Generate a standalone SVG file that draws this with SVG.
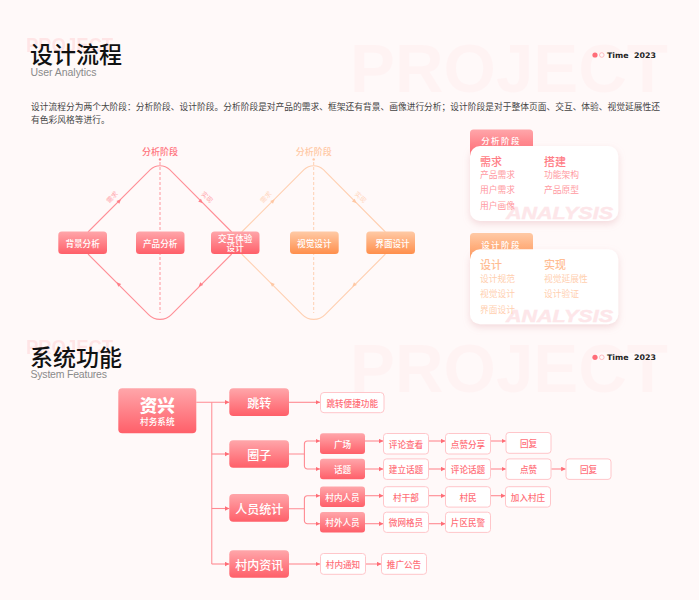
<svg xmlns="http://www.w3.org/2000/svg" width="699" height="600" viewBox="0 0 699 600">
<style>
text{font-family:"Noto Sans CJK SC","Liberation Sans",sans-serif}
.en{font-family:"Liberation Sans","Noto Sans CJK SC",sans-serif}
.ghost{font-family:"Liberation Sans",sans-serif;font-weight:700;fill:#ff6d78;opacity:.035;font-size:69px}
.ghosts{font-family:"Liberation Sans",sans-serif;font-weight:700;fill:#ffb8bd;opacity:.3;font-size:20px}
.h1{font-size:23px;font-weight:500;fill:#111}
.sub{font-size:10.5px;fill:#8a8a8a}
.p{font-size:8.74px;fill:#444}
.time{font-family:"DejaVu Sans",sans-serif;font-size:7.6px;font-weight:700;fill:#222}
.w{fill:#fff;text-anchor:middle;dominant-baseline:central;font-weight:500}
.w12{font-size:12px}.w9{font-size:8.6px}
.rb{fill:url(#red)}.ob{fill:url(#org)}
.lr{fill:none;stroke:#ff8f97;stroke-width:1.1}
.lo{fill:none;stroke:#ffd0b2;stroke-width:1.1}
.dr{stroke:#ff969d;stroke-width:1;stroke-dasharray:3 2;fill:none}
.do{stroke:#ffd0b2;stroke-width:1;stroke-dasharray:3 2;fill:none}
.stage{font-size:9px;text-anchor:middle;dominant-baseline:central;font-weight:500}
.tiny{font-size:6.5px;text-anchor:middle;dominant-baseline:central}
.card{fill:#fff;filter:url(#sh)}
.ct{font-size:11px;dominant-baseline:central;font-weight:500}
.ci{font-size:8.75px;dominant-baseline:central}
.ana{font-family:"Liberation Sans",sans-serif;font-weight:700;font-style:italic;font-size:17px;fill:#fde6e9;stroke:#fde6e9;stroke-width:.4}
.ol{fill:#fff;stroke:#ffc6ca;stroke-width:1}
.ot{fill:#ff6f79;font-size:8.6px;text-anchor:middle;dominant-baseline:central;font-weight:500}
.c{fill:none;stroke:#ff8a92;stroke-width:1.1;marker-end:url(#ar)}
.t{fill:none;stroke:#ffa9ae;stroke-width:1.4}
</style>
<defs>
<linearGradient id="red" x1="0" y1="0" x2="0" y2="1"><stop offset="0" stop-color="#ffa6aa"/><stop offset="1" stop-color="#ff5f69"/></linearGradient>
<linearGradient id="org" x1="0" y1="0" x2="0" y2="1"><stop offset="0" stop-color="#ffcaa6"/><stop offset="1" stop-color="#ff8f4c"/></linearGradient>
<filter id="sh" x="-15%" y="-20%" width="130%" height="145%"><feDropShadow dx="0" dy="3" stdDeviation="3.5" flood-color="#e0a0a6" flood-opacity=".35"/></filter>
<marker id="ar" markerUnits="userSpaceOnUse" markerWidth="5" markerHeight="5" refX="4.5" refY="2.5" orient="auto"><path d="M0,0.2L4.5,2.5L0,4.8Z" fill="#ff6d76"/></marker>
<path id="tr" d="M-2,-2L2.4,0L-2,2Z" fill="#ff7f88"/>
<path id="to" d="M-2,-2L2.4,0L-2,2Z" fill="#ffc8a4"/>
</defs>
<rect width="699" height="600" fill="#fff9f9"/>

<g id="header-1">
<text class="ghost" x="350" y="92" textLength="318" lengthAdjust="spacingAndGlyphs">PROJECT</text>
<text class="ghosts" x="26" y="52" textLength="87" lengthAdjust="spacingAndGlyphs">PROJECT</text>
<text class="h1" x="30" y="63">设计流程</text>
<text class="sub en" x="30.5" y="76" textLength="66">User Analytics</text>
<circle cx="595" cy="55" r="2.6" fill="#ff6d78"/><circle cx="601.8" cy="55" r="2.3" fill="none" stroke="#ffb4ba" stroke-width=".9"/>
<text class="time" x="607" y="58" textLength="49" lengthAdjust="spacingAndGlyphs" xml:space="preserve">Time  2023</text>
<text class="p" x="31" y="110" textLength="629">设计流程分为两个大阶段：分析阶段、设计阶段。分析阶段是对产品的需求、框架还有背景、画像进行分析；设计阶段是对于整体页面、交互、体验、视觉延展性还</text>
<text class="p" x="31" y="123">有色彩风格等进行。</text>
</g>

<g id="connectors-flow">
<path class="lo" d="M241.7,232L304,169.7A13.8,13.8 0 0 1 323.4,169.7L385.4,232M241.7,254L302.3,314.6A16,16 0 0 0 325.1,314.6L385.4,254"/>
<path class="do" d="M313.7,162V313"/><circle cx="313.7" cy="159.4" r="1.2" fill="#ffc8a4"/>
<use href="#to" transform="translate(273,201) rotate(-45)"/><use href="#to" transform="translate(354.7,201.5) rotate(45)"/><use href="#to" transform="translate(272,284) rotate(-135)"/><use href="#to" transform="translate(354,285) rotate(135)"/>
<path class="lr" d="M88,232L150.3,169.7A13.8,13.8 0 0 1 169.7,169.7L231.7,232M88,254L148.6,314.6A16,16 0 0 0 171.4,314.6L231.7,254"/>
<path class="dr" d="M160,162V313"/><circle cx="160" cy="159.4" r="1.2" fill="#ff7f88"/>
<use href="#tr" transform="translate(119.3,201) rotate(-45)"/><use href="#tr" transform="translate(201,201.5) rotate(45)"/><use href="#tr" transform="translate(118.3,284) rotate(-135)"/><use href="#tr" transform="translate(200.3,285) rotate(135)"/>
</g>
<g id="flow-labels">
<text class="stage" x="160" y="151" fill="#ff7580">分析阶段</text>
<text class="stage" x="313.7" y="151" fill="#ffc9a6">分析阶段</text>
<text class="tiny" x="111.7" y="196.7" fill="#ffa5ab" transform="rotate(-45 111.7 196.7)">需求</text>
<text class="tiny" x="207.5" y="196.7" fill="#ffa5ab" transform="rotate(45 207.5 196.7)">实现</text>
<text class="tiny" x="265.5" y="196.7" fill="#ffd6bd" transform="rotate(-45 265.5 196.7)">需求</text>
<text class="tiny" x="361" y="196.7" fill="#ffd6bd" transform="rotate(45 361 196.7)">实现</text>
</g>
<g id="n-beijing"><rect class="rb" x="58.3" y="231.5" width="48.7" height="22.5" rx="3.5"/><text class="w w9" x="82.6" y="242.7">背景分析</text></g>
<g id="n-chanpin"><rect class="rb" x="136" y="231.5" width="48.5" height="22.5" rx="3.5"/><text class="w w9" x="160.2" y="242.7">产品分析</text></g>
<g id="n-jiaohu"><rect class="rb" x="211" y="231.5" width="48.5" height="22.5" rx="3.5"/><text class="w w9" x="235.2" y="238">交互体验</text><text class="w w9" x="235.2" y="247">设计</text></g>
<g id="n-shijue"><rect class="ob" x="290" y="231.5" width="48.7" height="22.5" rx="3.5"/><text class="w w9" x="314.3" y="242.7">视觉设计</text></g>
<g id="n-jiemian"><rect class="ob" x="366.3" y="231.5" width="48.7" height="22.5" rx="3.5"/><text class="w w9" x="392.5" y="242.7">界面设计</text></g>

<g id="panel-analysis">
<rect class="rb" x="470" y="129.5" width="63" height="30" rx="3.5"/>
<text class="w" x="501" y="140" font-size="8.5" letter-spacing="1.4">分析阶段</text>
<rect class="card" x="470" y="146" width="148.3" height="75" rx="10"/>
<text class="ana" x="506" y="219" textLength="107" lengthAdjust="spacingAndGlyphs">ANALYSIS</text>
<g fill="#ff7d86"><text class="ct" x="480" y="161">需求</text><text class="ct" x="544" y="161">搭建</text></g>
<g fill="#ff9aa2"><text class="ci" x="480" y="174">产品需求</text><text class="ci" x="480" y="189.5">用户需求</text><text class="ci" x="480" y="205">用户画像</text><text class="ci" x="544" y="174">功能架构</text><text class="ci" x="544" y="189.5">产品原型</text></g>
</g>
<g id="panel-design">
<rect class="ob" x="470" y="233" width="63" height="30" rx="3.5"/>
<text class="w" x="501" y="243.5" font-size="8.5" letter-spacing="1.4">设计阶段</text>
<rect class="card" x="470" y="249.3" width="148.3" height="75" rx="10"/>
<text class="ana" x="506" y="322" textLength="107" lengthAdjust="spacingAndGlyphs">ANALYSIS</text>
<g fill="#ffbd93"><text class="ct" x="480" y="264">设计</text><text class="ct" x="544" y="264">实现</text></g>
<g fill="#ffcfb0"><text class="ci" x="480" y="278">设计规范</text><text class="ci" x="480" y="293">视觉设计</text><text class="ci" x="480" y="309">界面设计</text><text class="ci" x="544" y="278">视觉延展性</text><text class="ci" x="544" y="293">设计验证</text></g>
</g>

<g id="header-2">
<text class="ghost" x="350" y="392" textLength="318" lengthAdjust="spacingAndGlyphs">PROJECT</text>
<text class="ghosts" x="26" y="354" textLength="87" lengthAdjust="spacingAndGlyphs">PROJECT</text>
<text class="h1" x="30" y="365.7">系统功能</text>
<text class="sub en" x="30.5" y="378" textLength="76.5">System Features</text>
<circle cx="595" cy="357.3" r="2.6" fill="#ff6d78"/><circle cx="601.8" cy="357.3" r="2.3" fill="none" stroke="#ffb4ba" stroke-width=".9"/>
<text class="time" x="607" y="360.3" textLength="49" lengthAdjust="spacingAndGlyphs" xml:space="preserve">Time  2023</text>
</g>

<g id="connectors-tree">
<path class="t" d="M211.7,402.3V564"/>
<path class="c" d="M196.3,402.3H229.3"/><path class="c" d="M211.7,454H229.3"/><path class="c" d="M211.7,508.5H229.3"/><path class="c" d="M211.7,564H229.3"/>
<path class="c" d="M289,402.3H320"/>
<path class="c" d="M289,454H304.4V444a3,3 0 0 1 3,-3H320"/><path class="c" d="M304.4,454V466a3,3 0 0 0 3,3H320"/>
<path class="c" d="M289,508.7H304.4V498.7a3,3 0 0 1 3,-3H320"/><path class="c" d="M304.4,508.7V520.7a3,3 0 0 0 3,3H320"/>
<path class="c" d="M289,564H320"/>
<path class="c" d="M365,441H383.3"/><path class="c" d="M428.7,441H445.3"/><path class="c" d="M490.3,441H506"/>
<path class="c" d="M365,469H383.3"/><path class="c" d="M428.7,469H445.3"/><path class="c" d="M490.3,469H506"/><path class="c" d="M551.3,469H565.7"/>
<path class="c" d="M365,495.7H383.3"/><path class="c" d="M428.7,495.7H445.3"/><path class="c" d="M490.3,495.7H505.3"/>
<path class="c" d="M365,523.7H383.3"/><path class="c" d="M428.7,523.7H445.3"/>
<path class="c" d="M365.3,564H381.3"/>
</g>

<g id="t-root"><rect class="rb" x="118.3" y="388.3" width="78" height="45" rx="4"/><text class="w" x="157.3" y="404" font-size="17.5" font-weight="900" style="font-weight:900">资兴</text><text class="w w9" x="157.3" y="421">村务系统</text></g>
<g id="t-tiaozhuan"><rect class="rb" x="229.3" y="388.3" width="59.7" height="27.7" rx="4"/><text class="w w12" x="259.2" y="402">跳转</text></g>
<g id="t-quanzi"><rect class="rb" x="229.3" y="440.3" width="59.7" height="27.4" rx="4"/><text class="w w12" x="259.2" y="454">圈子</text></g>
<g id="t-renyuan"><rect class="rb" x="229.3" y="494" width="59.7" height="27.7" rx="4"/><text class="w w12" x="259.2" y="508">人员统计</text></g>
<g id="t-zixun"><rect class="rb" x="229.3" y="550.3" width="59.7" height="27.4" rx="4"/><text class="w w12" x="259.2" y="564">村内资讯</text></g>
<g id="t-bianjie"><rect class="ol" x="320.5" y="392.5" width="63.5" height="20.2" rx="3.5"/><text class="ot" x="352.2" y="402.5">跳转便捷功能</text></g>

<g id="t-guangchang"><rect class="rb" x="320" y="433.3" width="45" height="20.7" rx="3"/><text class="w w9" x="342.5" y="443.6">广场</text></g>
<g id="t-huati"><rect class="rb" x="320" y="458.7" width="45" height="20.6" rx="3"/><text class="w w9" x="342.5" y="469">话题</text></g>
<g id="t-cunnei"><rect class="rb" x="320" y="486.5" width="45" height="20.6" rx="3"/><text class="w w9" x="342.5" y="496.7">村内人员</text></g>
<g id="t-cunwai"><rect class="rb" x="320" y="512" width="45" height="20.4" rx="3"/><text class="w w9" x="342.5" y="522.2">村外人员</text></g>

<g id="t-pinglun"><rect class="ol" x="383.5" y="433.5" width="45" height="20.5" rx="3"/><text class="ot" x="406" y="443.8">评论查看</text></g>
<g id="t-dianzan1"><rect class="ol" x="445.5" y="433.5" width="45" height="20.5" rx="3"/><text class="ot" x="468" y="443.8">点赞分享</text></g>
<g id="t-huifu1"><rect class="ol" x="506" y="432.5" width="45" height="20.8" rx="3"/><text class="ot" x="528.5" y="443">回复</text></g>
<g id="t-jianli"><rect class="ol" x="383.5" y="458.9" width="45" height="20.5" rx="3"/><text class="ot" x="406" y="469.2">建立话题</text></g>
<g id="t-pinglun2"><rect class="ol" x="445.5" y="458.9" width="45" height="20.5" rx="3"/><text class="ot" x="468" y="469.2">评论话题</text></g>
<g id="t-dianzan2"><rect class="ol" x="506" y="458.9" width="45" height="20.5" rx="3"/><text class="ot" x="528.5" y="469.2">点赞</text></g>
<g id="t-huifu2"><rect class="ol" x="566" y="458.9" width="45" height="20.5" rx="3"/><text class="ot" x="588.5" y="469.2">回复</text></g>
<g id="t-cunganbu"><rect class="ol" x="383.5" y="486.7" width="45" height="20.4" rx="3"/><text class="ot" x="406" y="496.9">村干部</text></g>
<g id="t-cunmin"><rect class="ol" x="445.5" y="486.7" width="45" height="20.4" rx="3"/><text class="ot" x="468" y="496.9">村民</text></g>
<g id="t-jiaru"><rect class="ol" x="505.5" y="486.7" width="45" height="20.4" rx="3"/><text class="ot" x="528" y="496.9">加入村庄</text></g>
<g id="t-wangge"><rect class="ol" x="383.5" y="512.2" width="45" height="20.2" rx="3"/><text class="ot" x="406" y="522.3">微网格员</text></g>
<g id="t-minjing"><rect class="ol" x="445.5" y="512.2" width="45" height="20.2" rx="3"/><text class="ot" x="468" y="522.3">片区民警</text></g>
<g id="t-tongzhi"><rect class="ol" x="320.5" y="553.5" width="45" height="20.8" rx="3"/><text class="ot" x="343" y="564">村内通知</text></g>
<g id="t-gonggao"><rect class="ol" x="381.5" y="553.5" width="45" height="20.8" rx="3"/><text class="ot" x="404" y="564">推广公告</text></g>
</svg>
